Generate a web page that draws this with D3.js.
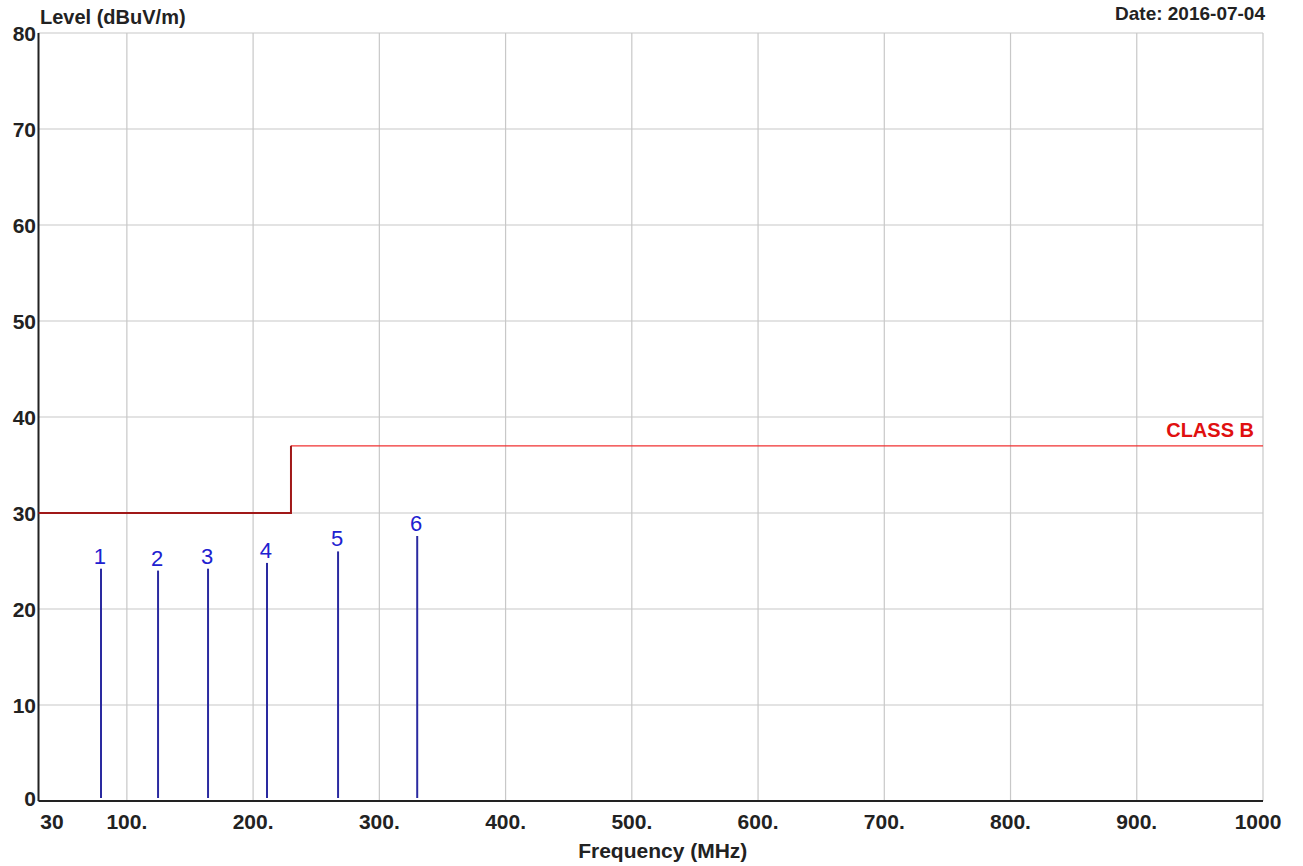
<!DOCTYPE html>
<html><head><meta charset="utf-8">
<script src="https://cdn.jsdelivr.net/npm/d3@7"></script>
<style>body{margin:0;background:#fff}</style>
</head><body><svg></svg>
<script>
var width = 1303, height = 866;

// data
var xTicks = [30, 100, 200, 300, 400, 500, 600, 700, 800, 900, 1000];
var yTicks = [0, 10, 20, 30, 40, 50, 60, 70, 80];
var markerIds = ["1", "2", "3", "4", "5", "6"];
var markerFreq = [79.5, 124.7, 164.3, 211, 267.3, 330];
var markerLevel = [24.2, 24.0, 24.2, 24.8, 26.0, 27.6];
var limitFreq = [30, 230, 230, 1000];
var limitLevel = [30, 30, 37, 37];

var x = d3.scaleLinear().domain([30, 1000]).range([38.5, 1263]);
var y = d3.scaleLinear().domain([0, 80]).range([801, 33]);

var svg = d3.select("svg").attr("width", width).attr("height", height)
    .style("font-family", "Arial, 'Liberation Sans', sans-serif");

// grid
svg.append("g").selectAll("line").data(xTicks.slice(1)).enter().append("line")
    .attr("x1", d => x(d)).attr("x2", d => x(d))
    .attr("y1", y(80)).attr("y2", y(0))
    .style("stroke", "#c8c8c8").style("stroke-width", 1.2);
svg.append("g").selectAll("line").data(yTicks.slice(1)).enter().append("line")
    .attr("x1", x(30)).attr("x2", x(1000))
    .attr("y1", d => y(d)).attr("y2", d => y(d))
    .style("stroke", "#c8c8c8").style("stroke-width", 1.2);

// axes lines
svg.append("line").attr("x1", x(30)).attr("x2", x(30)).attr("y1", y(80)).attr("y2", y(0))
    .style("stroke", "#222").style("stroke-width", 2);
svg.append("line").attr("x1", x(30)).attr("x2", x(1000)).attr("y1", y(0)).attr("y2", y(0))
    .style("stroke", "#222").style("stroke-width", 2);

// tick labels
svg.append("g").selectAll("text").data(yTicks).enter().append("text")
    .attr("x", 36).attr("y", d => y(d) + (d == 0 ? 5 : 8))
    .attr("text-anchor", "end").attr("font-weight", "bold").style("font-size", "21px")
    .style("fill", "#222").text(d => d);
svg.append("g").selectAll("text").data(xTicks).enter().append("text")
    .attr("x", d => d == 30 ? 52 : d == 1000 ? 1258 : x(d))
    .attr("y", 829)
    .attr("text-anchor", "middle").attr("font-weight", "bold").style("font-size", "21px")
    .style("fill", "#222").text(d => (d == 30 || d == 1000) ? d : d + ".");

svg.append("text").attr("x", 40).attr("y", 24).attr("font-weight", "bold")
    .style("font-size", "20px").style("fill", "#222").text("Level (dBuV/m)");
svg.append("text").attr("x", 1265).attr("y", 20).attr("text-anchor", "end").attr("font-weight", "bold")
    .style("font-size", "19px").style("fill", "#222").text("Date: 2016-07-04");
svg.append("text").attr("x", x(30) + (x(1000) - x(30)) / 2 + 12).attr("y", 858).attr("text-anchor", "middle")
    .attr("font-weight", "bold").style("font-size", "21px").style("fill", "#222").text("Frequency (MHz)");

// limit line
var pts = limitFreq.map((f, i) => [f, limitLevel[i]]);
var line = d3.line().x(d => x(d[0])).y(d => y(d[1]));
svg.append("path").attr("d", line(pts.slice(2))).style("fill", "none")
    .style("stroke", "#f03030").style("stroke-width", 1.3);
svg.append("path").attr("d", line(pts.slice(0, 3))).style("fill", "none")
    .style("stroke", "#a01818").style("stroke-width", 2);
svg.append("text").attr("x", 1254).attr("y", 437).attr("text-anchor", "end").attr("font-weight", "bold")
    .style("font-size", "20px").style("fill", "#e01010").text("CLASS B");

// markers
var g = svg.append("g");
g.selectAll("line").data(markerIds).enter().append("line")
    .attr("x1", (d, i) => x(markerFreq[i])).attr("x2", (d, i) => x(markerFreq[i]))
    .attr("y1", y(0) - 3).attr("y2", (d, i) => y(markerLevel[i]))
    .style("stroke", "#2a2aa0").style("stroke-width", 2);
g.selectAll("text").data(markerIds).enter().append("text")
    .attr("x", (d, i) => x(markerFreq[i]) - 1).attr("y", (d, i) => y(markerLevel[i]) - 5)
    .attr("text-anchor", "middle").style("font-size", "22px").style("fill", "#2020d0").text(d => d);
</script></body></html>
